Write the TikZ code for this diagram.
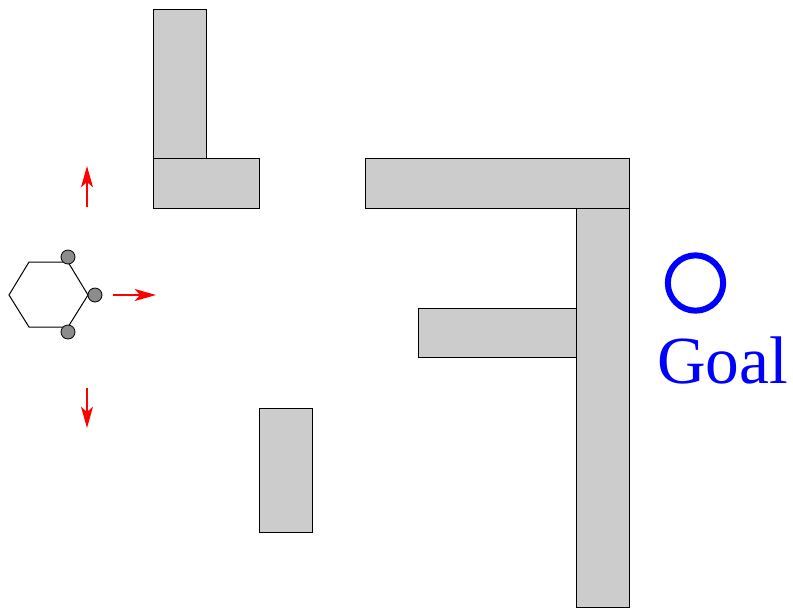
\documentclass[tikz,border=0pt]{standalone}
\usepackage{fontspec}
\setmainfont{Liberation Serif}
\usetikzlibrary{arrows.meta}
\begin{document}
\begin{tikzpicture}[x=0.75pt,y=-0.75pt,
  wall/.style={draw=black,fill=black!20,line width=0.75pt},
  wheel/.style={circle,draw=black,fill=black!45,line width=0.6pt,minimum size=10.5pt,inner sep=0pt},
  move/.style={draw=red,line width=1.1pt,-{Stealth[length=16pt,width=9pt,inset=4pt]}}]
\useasboundingbox (0,0) rectangle (793,608);
% walls
\draw[wall] (153,9) rectangle (206,158);
\draw[wall] (153,158) rectangle (259,208);
\draw[wall] (365,158) rectangle (629,208);
\draw[wall] (576,208) rectangle (629,607);
\draw[wall] (418,308) rectangle (576,357);
\draw[wall] (259,408) rectangle (312,532);
% robot
\draw[line width=0.75pt] (9,295) -- (29,262) -- (68,262) -- (88,295) -- (68,327) -- (29,327) -- cycle;
\node[wheel] (w1) at (68,257) {};
\node[wheel] (w2) at (95,295) {};
\node[wheel] (w3) at (68,332) {};
% motion arrows
\coordinate (r0) at (113,295); \coordinate (r1) at (156,295);
\coordinate (u0) at (87,207); \coordinate (u1) at (87,166);
\coordinate (d0) at (87,388); \coordinate (d1) at (87,428);
\draw[move] (r0) -- (r1);
\draw[move] (u0) -- (u1);
\draw[move] (d0) -- (d1);
% goal
\node[circle,draw=blue,line width=4.5pt,minimum size=41.5pt,inner sep=0pt] (goal) at (695.5,283) {};
\node[text=blue,font=\fontsize{50.5pt}{55pt}\selectfont,anchor=base,inner sep=0pt] (goallabel) at (722.5,383) {Goal};
\end{tikzpicture}
\end{document}
